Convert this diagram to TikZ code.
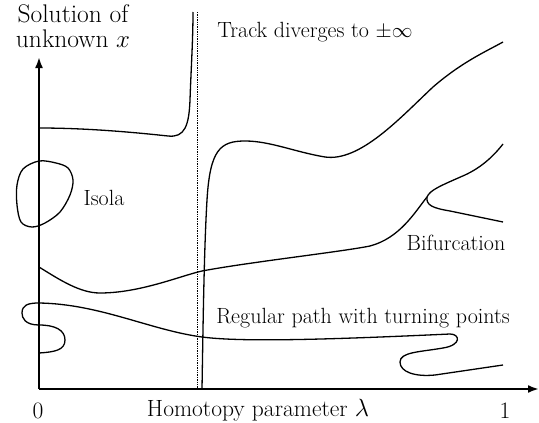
\documentclass[tikz,border=0pt]{standalone}
\usetikzlibrary{arrows.meta}
\begin{document}
\begin{tikzpicture}[x=1pt,y=-1pt,
  axis/.style={line width=2.4pt,-{Latex[length=11pt,width=8pt]}},
  curve/.style={line width=1.3pt},
  asym/.style={line width=0.7pt,dash pattern=on 1.4pt off 1pt},
  small/.style={font=\fontsize{22}{26}\selectfont},
  big/.style={font=\fontsize{23.5}{28}\selectfont},
  top/.style={font=\fontsize{25.5}{25.5}\selectfont,align=center,inner sep=0pt}]
\useasboundingbox (0,0) rectangle (539,423);
% axes
\coordinate (o) at (39,389);
\coordinate (ytip) at (39,57);
\coordinate (xtip) at (539,389);
\draw[axis] (o) -- (ytip);
\draw[axis] (o) -- (xtip);
% asymptote
\coordinate (a1) at (197,12);
\coordinate (a2) at (197,389);
\draw[asym] (a1) -- (a2);
% curve diverging up
\draw[curve] (39,128) .. controls (90,128) and (140,133) .. (168,136)
  .. controls (185,138) and (189,125) .. (190,100)
  .. controls (191,70) and (193,40) .. (193,12);
% curve from -infinity
\draw[curve] (202,389) .. controls (203,330) and (204,250) .. (207,200)
  .. controls (210,150) and (220,141) .. (245,141)
  .. controls (270,141) and (295,152) .. (325,157)
  .. controls (360,162) and (400,118) .. (433,87)
  .. controls (462,62) and (485,52) .. (503,42);
% isola
\draw[curve] plot[smooth cycle, tension=0.55] coordinates
  {(39,161) (56,163) (68,168) (73,180) (70,195) (60,212) (45,223) (32,227) (21,222) (17,205) (17,185) (23,169)};
% bifurcation curve
\draw[curve] (39,267) .. controls (60,280) and (80,293) .. (100,293)
  .. controls (140,293) and (180,276) .. (202,271)
  .. controls (250,262) and (340,252) .. (370,246)
  .. controls (400,238) and (415,212) .. (427,197);
\draw[curve] (427,197) .. controls (430,190) and (440,186) .. (465,175)
  .. controls (480,168) and (492,158) .. (503,144);
\draw[curve] (427,197) .. controls (426,205) and (432,208) .. (450,211)
  -- (503,222);
% regular path with turning points
\draw[curve] (39,353) .. controls (55,352) and (65,350) .. (65,340)
  .. controls (65,330) and (55,325) .. (39,325)
  .. controls (25,325) and (22,318) .. (22,313)
  .. controls (22,305) and (28,303) .. (39,303)
  .. controls (100,304) and (150,330) .. (202,337)
  .. controls (240,342) and (320,340) .. (450,334)
  .. controls (460,334) and (462,345) .. (443,348)
  .. controls (420,352) and (400,352) .. (400,362)
  .. controls (400,372) and (415,377) .. (435,375)
  -- (503,365);
% labels
\node[top,anchor=base] (ylab) at (73,47.5) {Solution of\\unknown $x$};
\node[big] (xlab) at (258,410) {Homotopy parameter $\lambda$};
\node[big] (zero) at (38,411) {0};
\node[big] (one) at (505,411) {1};
\node[small] (track) at (315,32) {Track diverges to $\pm\infty$};
\node[small] (isola) at (104,198) {Isola};
\node[small] (bif) at (456,243) {Bifurcation};
\node[small] (reg) at (363,318) {Regular path with turning points};
\end{tikzpicture}
\end{document}
